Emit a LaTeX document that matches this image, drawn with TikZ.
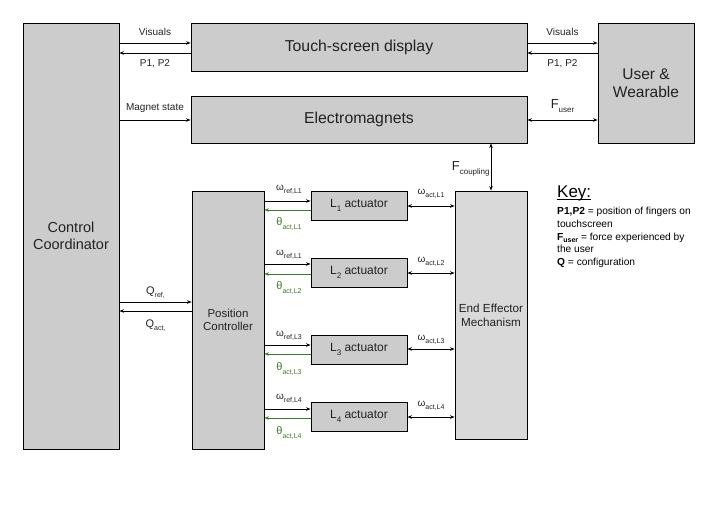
\documentclass[tikz,border=0pt]{standalone}
\usepackage{fontspec}
\setmainfont{Liberation Sans}
\usetikzlibrary{arrows.meta}
\definecolor{boxgray}{HTML}{CCCCCC}
\definecolor{eegray}{HTML}{D9D9D9}
\definecolor{thgreen}{HTML}{3F7A27}
\definecolor{txt}{HTML}{222222}
\newcommand\sbs[1]{\raisebox{-0.55ex}{\fontsize{7}{7}\selectfont #1}}
\newcommand\sbf[1]{\raisebox{-0.6ex}{\fontsize{8}{8}\selectfont #1}}
\begin{document}
\begin{tikzpicture}[x=1pt,y=-1pt,
  box/.style={draw=black, line width=0.9pt, fill=boxgray, inner sep=0pt, align=center, text=txt},
  arr/.style={line width=0.8pt, -{Stealth[length=4.5pt,width=3.5pt]}},
  darr/.style={line width=0.8pt, {Stealth[length=4.5pt,width=3.5pt]}-{Stealth[length=4.5pt,width=3.5pt]}},
  garr/.style={arr, draw=thgreen},
  lbl/.style={font=\fontsize{10}{12}\selectfont, text=txt, inner sep=0pt},
  wl/.style={font=\fontsize{10}{12}\selectfont, text=txt, inner sep=0pt},
  tl/.style={font=\fontsize{11}{12}\selectfont, text=thgreen, inner sep=0pt},
  fl/.style={font=\fontsize{13}{14}\selectfont, text=txt, inner sep=0pt},
  keyl/.style={anchor=base west, font=\fontsize{10.2}{12}\selectfont, text=black, inner sep=0pt}
]
\useasboundingbox (0,0) rectangle (712,525);

% main boxes
\node[box, minimum width=96pt, minimum height=426pt, font=\fontsize{14.5}{17.5}\selectfont] (CC) at (71,236) {Control\\Coordinator};
\node[box, minimum width=336pt, minimum height=48pt, font=\fontsize{15.8}{18}\selectfont] (TSD) at (359,47) {Touch-screen display};
\node[box, minimum width=336pt, minimum height=47pt, font=\fontsize{15.8}{18}\selectfont] (EM) at (359,119.5) {Electromagnets};
\node[box, minimum width=96pt, minimum height=120pt, font=\fontsize{15.5}{18}\selectfont] (UW) at (646,83) {User \&\\Wearable};
\node[box, minimum width=72pt, minimum height=258pt, font=\fontsize{11.5}{13.5}\selectfont] (PC) at (228,320) {Position\\Controller};
\node[box, fill=eegray, minimum width=72pt, minimum height=248pt, font=\fontsize{11.7}{14}\selectfont] (EE) at (491,315) {End Effector\\Mechanism};

% level coordinates
\coordinate (y43) at (0,43);
\coordinate (y53) at (0,53);
\coordinate (y120) at (0,120);
\coordinate (y302) at (0,302);
\coordinate (y311) at (0,311);

% top connectors
\draw[arr] (CC.east |- y43) -- node[lbl, yshift=11pt]{Visuals} (TSD.west |- y43);
\draw[arr] (TSD.west |- y53) -- node[lbl, yshift=-11pt]{P1, P2} (CC.east |- y53);
\draw[arr] (TSD.east |- y43) -- node[lbl, yshift=11pt]{Visuals} (UW.west |- y43);
\draw[arr] (UW.west |- y53) -- node[lbl, yshift=-11pt]{P1, P2} (TSD.east |- y53);
\draw[arr] (CC.east |- y120) -- node[lbl, yshift=12pt]{Magnet state} (EM.west |- y120);
\draw[darr] (EM.east |- y120) -- node[fl, yshift=14pt]{F\sbf{user}} (UW.west |- y120);
\draw[darr] (EE.north |- EM.south) -- node[fl, left=1pt, yshift=-2pt]{F\sbf{coupling}} (EE.north);

% Q connectors
\draw[arr] (CC.east |- y302) -- node[fl, font=\fontsize{11}{12}\selectfont, yshift=9pt]{Q\sbs{ref,}} (PC.west |- y302);
\draw[arr] (PC.west |- y311) -- node[fl, font=\fontsize{11}{12}\selectfont, yshift=-15pt]{Q\sbs{act,}} (CC.east |- y311);

% actuators
\foreach \i/\c/\o/\t/\d/\lo/\lt/\la/\r in {1/205.5/201/210/206/190/224/194/1,
                                          2/272.5/264/274/273/255/288/262/1,
                                          3/349.5/345/354/349/336/369/340/3,
                                          4/416.5/409/418/417/399/433/406/4}{
  \node[box, minimum width=96pt, minimum height=29pt, font=\fontsize{12}{14}\selectfont] (L\i) at (359,\c) {L\sbf{\i} actuator};
  \coordinate (o\i) at (0,\o);
  \coordinate (t\i) at (0,\t);
  \coordinate (d\i) at (0,\d);
  \draw[arr] (PC.east |- o\i) -- (L\i.west |- o\i);
  \draw[garr] (L\i.west |- t\i) -- (PC.east |- t\i);
  \draw[darr] (L\i.east |- d\i) -- (EE.west |- d\i);
  \node[wl] at (289,\lo) {ω\sbs{ref,L\r}};
  \node[tl] at (289,\lt) {θ\sbs{act,L\i}};
  \node[wl] at (431,\la) {ω\sbs{act,L\i}};
}

% key
\node[anchor=base west, font=\fontsize{17}{17}\selectfont, inner sep=0pt, text=black] (key) at (557,197) {Key:};
\draw[line width=0.9pt] ([yshift=-2pt]key.base west) -- ([yshift=-2pt]key.base east);
\node[keyl] (k1) at (557,214) {\textbf{P1,P2} = position of fingers on};
\node[keyl] (k2) at (557,227) {touchscreen};
\node[keyl] (k3) at (557,240) {\textbf{F}\sbs{\textbf{user}} = force experienced by};
\node[keyl] (k4) at (557,252) {the user};
\node[keyl] (k5) at (557,265) {\textbf{Q} = configuration};
\end{tikzpicture}
\end{document}
